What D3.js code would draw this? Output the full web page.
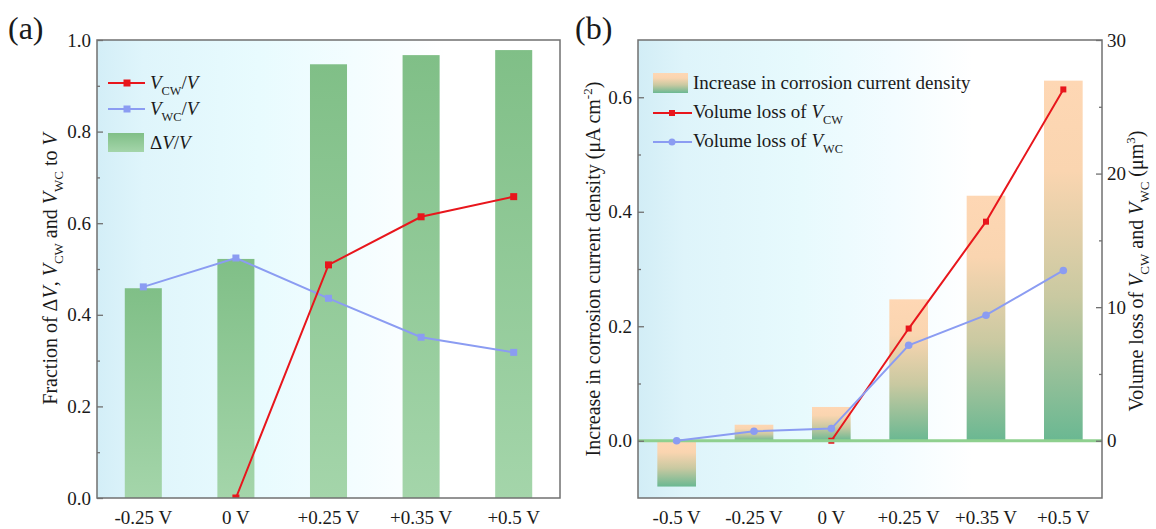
<!DOCTYPE html>
<html>
<head>
<meta charset="utf-8">
<script src="https://cdn.jsdelivr.net/npm/d3@7"></script>
<style>
  html, body { margin: 0; padding: 0; background: #fff; }
  svg { display: block; }
  text { font-family: "Liberation Serif", "Times New Roman", serif; fill: #1a1a1a; }
</style>
</head>
<body>
<script>
// ---- Panel (a): volume fractions per applied potential ----
const catsA = ["-0.25 V", "0 V", "+0.25 V", "+0.35 V", "+0.5 V"];
const dVFrac = [0.458, 0.522, 0.947, 0.967, 0.978];      // ΔV/V (bars)
const vcwFrac = [null, 0, 0.509, 0.614, 0.658];          // V_CW/V
const vwcFrac = [0.461, 0.524, 0.436, 0.351, 0.318];     // V_WC/V
const ticksA = [0, 0.2, 0.4, 0.6, 0.8, 1.0];
const minorA = [0.1, 0.3, 0.5, 0.7, 0.9];

// ---- Panel (b): corrosion current increase and volume loss ----
const catsB = ["-0.5 V", "-0.25 V", "0 V", "+0.25 V", "+0.35 V", "+0.5 V"];
const icorrInc = [-0.080, 0.028, 0.059, 0.247, 0.428, 0.629]; // μA cm^-2 (bars)
const vcwLoss = [null, null, 0, 8.4, 16.4, 26.3];             // μm^3
const vwcLoss = [0, 0.71, 0.91, 7.15, 9.4, 12.75];            // μm^3
const ticksBL = [0, 0.2, 0.4, 0.6];
const minorBL = [0.1, 0.3, 0.5];
const ticksBR = [0, 10, 20, 30];
const minorBR = [5, 15, 25];

const W = 1156, H = 529;
const RED = "#e8161c", BLUE = "#8b9cf2", FRAME = "#707070";
const FS = 19;

const svg = d3.select("body").append("svg").attr("width", W).attr("height", H);
const defs = svg.append("defs");

function linGrad(id, stops, vertical) {
  const g = defs.append("linearGradient").attr("id", id);
  if (vertical) g.attr("x1", 0).attr("y1", 0).attr("x2", 0).attr("y2", 1);
  else g.attr("x1", 0).attr("y1", 0).attr("x2", 1).attr("y2", 0);
  stops.forEach(([o, c]) => g.append("stop").attr("offset", o).attr("stop-color", c));
  return g;
}
linGrad("bgA", [[0, "#d3eef7"], [0.1, "#dff5fb"], [0.35, "#e8fbfe"], [0.55, "#f3fdff"], [0.75, "#ffffff"], [1, "#ffffff"]]);
linGrad("bgB", [[0, "#d2edf6"], [0.1, "#def4fa"], [0.35, "#e7fafd"], [0.55, "#f3fcff"], [0.72, "#ffffff"], [1, "#ffffff"]]);
linGrad("barA", [[0, "#80bf87"], [1, "#a4d5aa"]], true);
linGrad("barB", [[0, "#fed7b4"], [0.25, "#fad5b0"], [0.6, "#c9c9a1"], [1, "#6ab892"]], true);

// Rich text helper: italics, subscripts, superscripts
function rich(sel, parts, size) {
  let shift = 0;
  parts.forEach(p => {
    const ts = sel.append("tspan").text(p.t);
    const target = p.sub ? size * 0.3 : p.sup ? -size * 0.4 : 0;
    if (target - shift !== 0) ts.attr("dy", target - shift);
    shift = target;
    if (p.sub || p.sup) ts.attr("font-size", size * 0.65);
    if (p.i) ts.attr("font-style", "italic");
  });
  return sel;
}

function frame(g, P) {
  g.append("rect").attr("x", P.l).attr("y", P.t).attr("width", P.r - P.l).attr("height", P.b - P.t)
    .attr("fill", "none").attr("stroke", FRAME).attr("stroke-width", 1.5);
}

function yAxis(g, scale, x, side, major, minor, fmt, pad) {
  const mk = side === "left" ? d3.axisLeft : d3.axisRight;
  const ax = g.append("g").attr("transform", `translate(${x},0)`)
    .call(mk(scale).tickValues(major).tickSize(-6).tickPadding(pad).tickFormat(fmt));
  ax.select(".domain").remove();
  ax.selectAll("line").attr("stroke", FRAME).attr("stroke-width", 1.3);
  ax.selectAll("text").attr("font-size", FS).attr("font-family", "Liberation Serif").attr("fill", "#1a1a1a");
  const mn = g.append("g").attr("transform", `translate(${x},0)`)
    .call(mk(scale).tickValues(minor).tickSize(-3).tickFormat(""));
  mn.select(".domain").remove();
  mn.selectAll("line").attr("stroke", FRAME).attr("stroke-width", 1.3);
}

function xAxis(g, scale, y) {
  const ax = g.append("g").attr("transform", `translate(0,${y})`)
    .call(d3.axisBottom(scale).tickSize(0).tickPadding(13));
  ax.select(".domain").remove();
  ax.selectAll("text").attr("font-size", FS).attr("font-family", "Liberation Serif").attr("fill", "#1a1a1a");
}

// ================= Panel (a) =================
const A = { l: 97, r: 560, t: 40, b: 498 };
const gA = svg.append("g");
const xA = d3.scaleBand().domain(catsA).range([A.l, A.r]).paddingInner(0.6).paddingOuter(0.3);
const yA = d3.scaleLinear().domain([0, 1]).range([A.b, A.t]);
const bwA = xA.bandwidth();
const cxA = c => xA(c) + bwA / 2;

defs.append("clipPath").attr("id", "clipA").append("rect")
  .attr("x", A.l).attr("y", A.t).attr("width", A.r - A.l).attr("height", A.b - A.t);

gA.append("rect").attr("x", A.l).attr("y", A.t).attr("width", A.r - A.l).attr("height", A.b - A.t)
  .attr("fill", "url(#bgA)");

gA.selectAll(".barA").data(catsA.map((c, i) => ({ c, v: dVFrac[i] }))).join("rect")
  .attr("x", d => xA(d.c)).attr("y", d => yA(d.v))
  .attr("width", bwA).attr("height", d => yA(0) - yA(d.v))
  .attr("fill", "url(#barA)");

const plotA = gA.append("g").attr("clip-path", "url(#clipA)");
function seriesSquares(g, cats, vals, xf, yf, color, size) {
  const data = cats.map((c, i) => ({ c, v: vals[i] })).filter(d => d.v != null);
  g.append("path").datum(data)
    .attr("d", d3.line().x(d => xf(d.c)).y(d => yf(d.v)))
    .attr("fill", "none").attr("stroke", color).attr("stroke-width", 2);
  g.selectAll(null).data(data).join("rect")
    .attr("x", d => xf(d.c) - size / 2).attr("y", d => yf(d.v) - size / 2)
    .attr("width", size).attr("height", size).attr("fill", color);
}
seriesSquares(plotA, catsA, vwcFrac, cxA, yA, BLUE, 7);
seriesSquares(plotA, catsA, vcwFrac, cxA, yA, RED, 7);

yAxis(gA, yA, A.l, "left", ticksA, minorA, d3.format(".1f"), 6);
xAxis(gA, xA, A.b);
frame(gA, A);

// legend (a)
const legA = gA.append("g");
[[83, RED, [{ t: "V", i: true }, { t: "CW", sub: true }, { t: "/" }, { t: "V", i: true }]],
 [109, BLUE, [{ t: "V", i: true }, { t: "WC", sub: true }, { t: "/" }, { t: "V", i: true }]]]
  .forEach(([y, col, parts]) => {
    legA.append("line").attr("x1", 108).attr("x2", 145).attr("y1", y).attr("y2", y)
      .attr("stroke", col).attr("stroke-width", 2);
    legA.append("rect").attr("x", 123.5).attr("y", y - 3.5).attr("width", 7).attr("height", 7).attr("fill", col);
    rich(legA.append("text").attr("x", 150).attr("y", y + 6).attr("font-size", FS), parts, FS);
  });
legA.append("rect").attr("x", 108).attr("y", 133).attr("width", 36).attr("height", 19).attr("fill", "url(#barA)");
rich(legA.append("text").attr("x", 150).attr("y", 149).attr("font-size", FS),
  [{ t: "Δ" }, { t: "V", i: true }, { t: "/" }, { t: "V", i: true }], FS);

// axis title (a)
rich(gA.append("text").attr("text-anchor", "middle").attr("font-size", 20)
  .attr("transform", `translate(57,${(A.t + A.b) / 2}) rotate(-90)`),
  [{ t: "Fraction of Δ" }, { t: "V", i: true }, { t: ", " }, { t: "V", i: true }, { t: "CW", sub: true },
   { t: " and " }, { t: "V", i: true }, { t: "WC", sub: true }, { t: " to " }, { t: "V", i: true }], 20);

svg.append("text").attr("x", 8).attr("y", 39).attr("font-size", 32).text("(a)");

// ================= Panel (b) =================
const B = { l: 638, r: 1102, t: 40, b: 498 };
const gB = svg.append("g");
const xB = d3.scaleBand().domain(catsB).range([B.l, B.r]).paddingInner(0.5).paddingOuter(0.25);
const yB = d3.scaleLinear().domain([-0.1, 0.7]).range([B.b, B.t]);
const yB2 = d3.scaleLinear().domain([-0.1 * 30 / 0.7, 30]).range([B.b, B.t]);
const bwB = xB.bandwidth();
const cxB = c => xB(c) + bwB / 2;

defs.append("clipPath").attr("id", "clipB").append("rect")
  .attr("x", B.l).attr("y", B.t).attr("width", B.r - B.l).attr("height", B.b - B.t);

gB.append("rect").attr("x", B.l).attr("y", B.t).attr("width", B.r - B.l).attr("height", B.b - B.t)
  .attr("fill", "url(#bgB)");

gB.selectAll(".barB").data(catsB.map((c, i) => ({ c, v: icorrInc[i] }))).join("rect")
  .attr("x", d => xB(d.c)).attr("y", d => yB(Math.max(0, d.v)))
  .attr("width", bwB).attr("height", d => Math.abs(yB(d.v) - yB(0)))
  .attr("fill", "url(#barB)");

const plotB = gB.append("g").attr("clip-path", "url(#clipB)");
seriesSquares(plotB, catsB, vcwLoss, cxB, yB2, RED, 6);

// zero reference line
plotB.append("line").attr("x1", B.l).attr("x2", B.r).attr("y1", yB(0)).attr("y2", yB(0))
  .attr("stroke", "#8fd08f").attr("stroke-width", 3);

const vwcData = catsB.map((c, i) => ({ c, v: vwcLoss[i] }));
plotB.append("path").datum(vwcData)
  .attr("d", d3.line().x(d => cxB(d.c)).y(d => yB2(d.v)))
  .attr("fill", "none").attr("stroke", BLUE).attr("stroke-width", 2);
plotB.selectAll(null).data(vwcData).join("circle")
  .attr("cx", d => cxB(d.c)).attr("cy", d => yB2(d.v)).attr("r", 3.8).attr("fill", BLUE);

yAxis(gB, yB, B.l, "left", ticksBL, minorBL, d3.format(".1f"), 6);
yAxis(gB, yB2, B.r, "right", ticksBR, minorBR, d3.format("d"), 5);
xAxis(gB, xB, B.b);
frame(gB, B);

// legend (b)
const legB = gB.append("g");
legB.append("rect").attr("x", 653).attr("y", 73).attr("width", 35).attr("height", 20).attr("fill", "url(#barB)");
legB.append("text").attr("x", 693).attr("y", 89).attr("font-size", FS).text("Increase in corrosion current density");
legB.append("line").attr("x1", 653).attr("x2", 692).attr("y1", 113).attr("y2", 113).attr("stroke", RED).attr("stroke-width", 2);
legB.append("rect").attr("x", 669).attr("y", 110).attr("width", 6).attr("height", 6).attr("fill", RED);
rich(legB.append("text").attr("x", 693).attr("y", 118).attr("font-size", FS),
  [{ t: "Volume loss of " }, { t: "V", i: true }, { t: "CW", sub: true }], FS);
legB.append("line").attr("x1", 653).attr("x2", 692).attr("y1", 142).attr("y2", 142).attr("stroke", BLUE).attr("stroke-width", 2);
legB.append("circle").attr("cx", 672).attr("cy", 142).attr("r", 3.5).attr("fill", BLUE);
rich(legB.append("text").attr("x", 693).attr("y", 147).attr("font-size", FS),
  [{ t: "Volume loss of " }, { t: "V", i: true }, { t: "WC", sub: true }], FS);

// axis titles (b)
rich(gB.append("text").attr("text-anchor", "middle").attr("font-size", 20)
  .attr("transform", `translate(600,${(B.t + B.b) / 2}) rotate(-90)`),
  [{ t: "Increase in corrosion current density (μA cm" }, { t: "-2", sup: true }, { t: ")" }], 20);
rich(gB.append("text").attr("text-anchor", "middle").attr("font-size", 20)
  .attr("transform", `translate(1143,${(B.t + B.b) / 2 + 2}) rotate(-90)`),
  [{ t: "Volume loss of " }, { t: "V", i: true }, { t: "CW", sub: true }, { t: " and " },
   { t: "V", i: true }, { t: "WC", sub: true }, { t: " (μm" }, { t: "3", sup: true }, { t: ")" }], 20);

svg.append("text").attr("x", 575).attr("y", 39).attr("font-size", 32).text("(b)");
</script>
</body>
</html>
